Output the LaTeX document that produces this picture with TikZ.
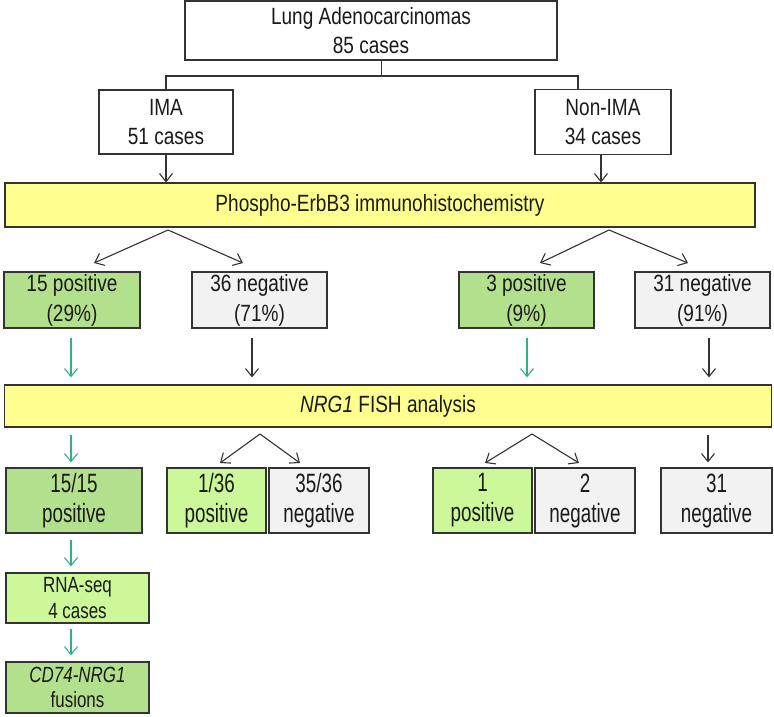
\documentclass[tikz,border=0pt]{standalone}
\usepackage{fontspec}
\setmainfont{Liberation Sans}
\newfontfamily\fa{Liberation Sans}[FakeStretch=0.81]
\newfontfamily\fb{Liberation Sans}[FakeStretch=0.71]
\newfontfamily\fc{Liberation Sans}[FakeStretch=0.77]
\usetikzlibrary{arrows.meta}
\definecolor{ybox}{HTML}{FFFF8F}
\definecolor{dgreen}{HTML}{B3E08C}
\definecolor{lgreen}{HTML}{CCF89A}
\definecolor{gbox}{HTML}{F2F2F2}
\definecolor{garr}{HTML}{33AF87}
\definecolor{lc}{HTML}{333333}
\definecolor{tc}{HTML}{1A1A1A}
\tikzset{
  x=1pt, y=-1pt,
  box/.style={draw=lc, line width=1.2pt, rectangle, inner sep=0pt, align=center, text=tc},
  rowa/.style={box, font=\fa\fontsize{23.5}{28.5}\selectfont},
  rowb/.style={box, font=\fa\fontsize{23.5}{30}\selectfont},
  rowc/.style={box, font=\fb\fontsize{26.5}{30}\selectfont},
  rowd/.style={box, font=\fc\fontsize{22}{25.5}\selectfont},
  conn/.style={draw=lc, line width=1.1pt},
  barr/.style={conn, -{Straight Barb[length=8pt,width=13pt,line width=1.1pt]}},
  garrow/.style={draw=garr, line width=1.1pt, -{Straight Barb[length=8pt,width=13pt,line width=1.1pt]}},
}
\begin{document}
\begin{tikzpicture}
\useasboundingbox (0,0) rectangle (774,716);
% level 1
\node[rowa, minimum width=372pt, minimum height=59pt] (top) at (371,30.5) {Lung Adenocarcinomas\\85 cases};
\node[rowa, minimum width=134pt, minimum height=64pt] (ima) at (166,122) {IMA\\51 cases};
\node[rowa, minimum width=136pt, minimum height=65pt] (nima) at (603,122) {Non-IMA\\34 cases};
\coordinate (split) at (381.5,76);
\coordinate (xl) at (166,0);
\coordinate (xr) at (578,0);
\draw[conn] (top.south -| split) -- (split) -- (split -| xl) -- (ima.north -| xl);
\draw[conn] (split) -- (split -| xr) -- (nima.north -| xr);
% phospho
\node[box, fill=ybox, font=\fa\fontsize{23.5}{28}\selectfont, minimum width=750pt, minimum height=44pt] (ihc) at (380,205) {Phospho-ErbB3 immunohistochemistry};
\coordinate (xima) at (166,0);
\coordinate (xnima) at (601,0);
\draw[barr] (ima.south -| xima) -- (ihc.north -| xima);
\draw[barr] (nima.south -| xnima) -- (ihc.north -| xnima);
% row 2
\node[rowb, fill=dgreen, minimum width=136pt, minimum height=56pt] (p15) at (72,300) {15 positive\\(29\%)};
\node[rowb, fill=gbox, minimum width=135pt, minimum height=56pt] (n36) at (259.5,300) {36 negative\\(71\%)};
\node[rowb, fill=dgreen, minimum width=135pt, minimum height=56pt] (p3) at (526.5,300) {3 positive\\(9\%)};
\node[rowb, fill=gbox, minimum width=135pt, minimum height=56pt] (n31) at (702.5,300) {31 negative\\(91\%)};
\coordinate (fa) at (168,230);
\coordinate (fb) at (609,230);
\coordinate (fa1) at (94,263);
\coordinate (fa2) at (243,263);
\coordinate (fb1) at (540,263);
\coordinate (fb2) at (688,263);
\draw[barr] (fa) -- (fa1);
\draw[barr] (fa) -- (fa2);
\draw[barr] (fb) -- (fb1);
\draw[barr] (fb) -- (fb2);
% NRG1 FISH
\node[box, fill=ybox, font=\fa\fontsize{23.5}{28}\selectfont, minimum width=767pt, minimum height=42pt] (fish) at (388,406) {\textit{NRG1} FISH analysis};
\coordinate (x1) at (71,0);
\coordinate (x2) at (252,0);
\coordinate (x3) at (527,0);
\coordinate (x4) at (709,0);
\draw[garrow, shorten <=9pt, shorten >=7pt] (p15.south -| x1) -- (fish.north -| x1);
\draw[barr, shorten <=9pt, shorten >=7pt] (n36.south -| x2) -- (fish.north -| x2);
\draw[garrow, shorten <=9pt, shorten >=7pt] (p3.south -| x3) -- (fish.north -| x3);
\draw[barr, shorten <=9pt, shorten >=7pt] (n31.south -| x4) -- (fish.north -| x4);
% row 3
\node[rowc, fill=dgreen, minimum width=136pt, minimum height=65pt] (r15) at (74,500.5) {15/15\\positive};
\node[rowc, fill=lgreen, minimum width=99pt, minimum height=65pt] (r1) at (216.5,500.5) {1/36\\positive};
\node[rowc, fill=gbox, minimum width=100pt, minimum height=65pt] (r35) at (319,500.5) {35/36\\negative};
\node[rowc, fill=lgreen, minimum width=99pt, minimum height=65pt] (q1) at (482.5,500.5) {1\\positive};
\node[rowc, fill=gbox, minimum width=100pt, minimum height=65pt] (q2) at (585,500.5) {2\\negative};
\node[rowc, fill=gbox, minimum width=111pt, minimum height=65pt] (q31) at (716.5,500.5) {31\\negative};
\coordinate (fc) at (260,434);
\coordinate (fd) at (532,434);
\coordinate (fc1) at (220,463);
\coordinate (fc2) at (300,463);
\coordinate (fd1) at (485,463);
\coordinate (fd2) at (579,463);
\draw[barr] (fc) -- (fc1);
\draw[barr] (fc) -- (fc2);
\draw[barr] (fd) -- (fd1);
\draw[barr] (fd) -- (fd2);
\coordinate (x5) at (708,0);
\draw[garrow, shorten <=7pt, shorten >=5pt] (fish.south -| x1) -- (r15.north -| x1);
\draw[barr, shorten <=7pt, shorten >=5pt] (fish.south -| x5) -- (q31.north -| x5);
% bottom chain
\node[rowd, fill=lgreen, minimum width=143pt, minimum height=50pt] (rna) at (77.5,598) {RNA-seq\\4 cases};
\node[rowd, fill=dgreen, minimum width=143pt, minimum height=51pt] (cd) at (77.5,687.5) {\textit{CD74-NRG1}\\fusions};
\draw[garrow, shorten <=6pt, shorten >=6pt] (r15.south -| x1) -- (rna.north -| x1);
\draw[garrow, shorten <=5pt, shorten >=6pt] (rna.south -| x1) -- (cd.north -| x1);
\end{tikzpicture}
\end{document}
